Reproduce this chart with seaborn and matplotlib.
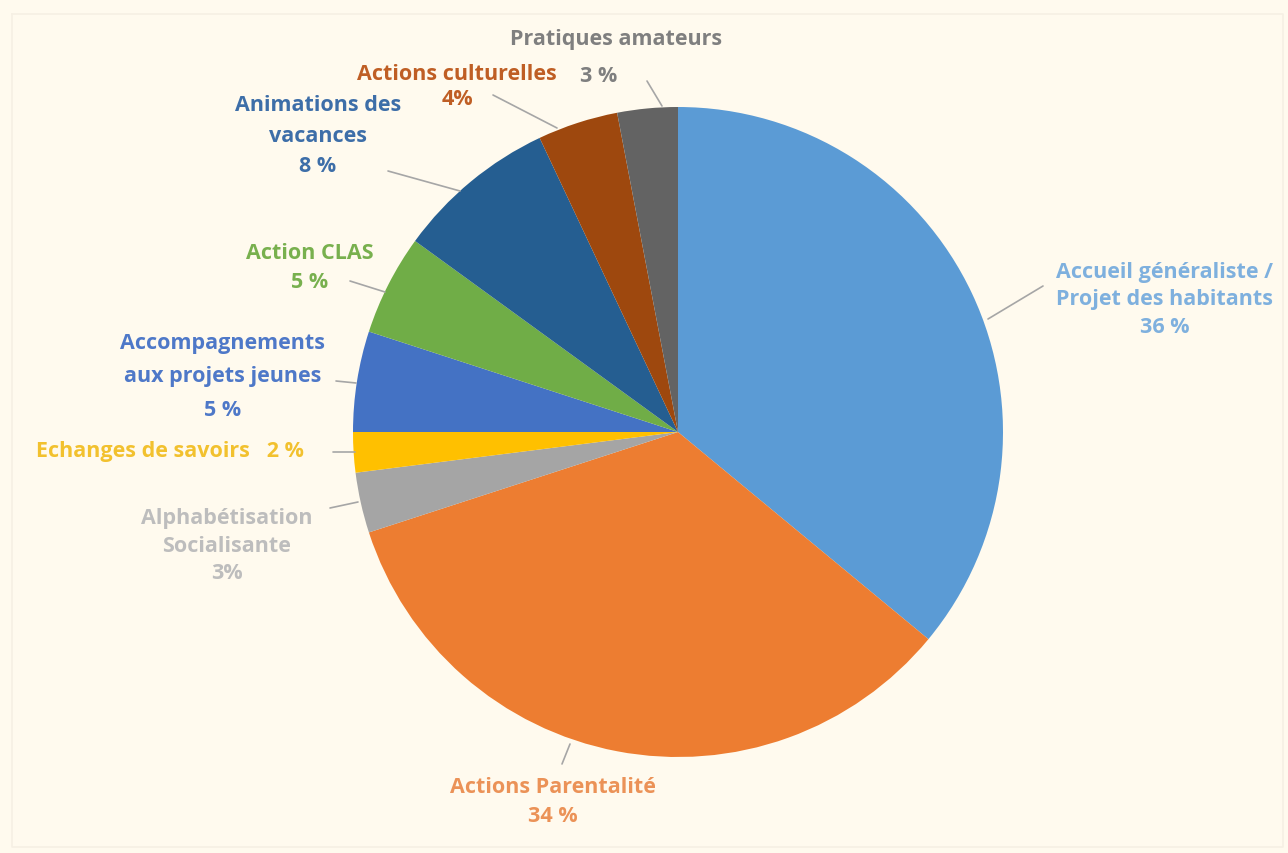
import matplotlib
matplotlib.use("Agg")
import matplotlib.pyplot as plt
import seaborn as sns

categories = ["Accueil généraliste / Projet des habitants", "Actions Parentalité",
              "Alphabétisation Socialisante", "Echanges de savoirs",
              "Accompagnements aux projets jeunes", "Action CLAS",
              "Animations des vacances", "Actions culturelles", "Pratiques amateurs"]
values = [36, 34, 3, 2, 5, 5, 8, 4, 3]
slice_colors = ["#5B9BD5", "#ED7D31", "#A5A5A5", "#FFC000", "#4472C4",
                "#70AD47", "#255E91", "#9E480E", "#636363"]
label_texts = ["Accueil généraliste /\nProjet des habitants\n36 %",
               "Actions Parentalité\n34 %",
               "Alphabétisation\nSocialisante\n3%",
               "Echanges de savoirs   2 %",
               "Accompagnements\naux projets jeunes\n5 %",
               "Action CLAS\n5 %",
               "Animations des\nvacances\n8 %",
               "Actions culturelles\n4%",
               "Pratiques amateurs\n3 %"]
label_colors = ["#7EB0DE", "#EB9257", "#BDBDBD", "#F2C12E", "#4E78C8",
                "#78B04E", "#3D6EA8", "#BF5E24", "#7F7F7F"]

sns.set_style("white")
plt.rcParams['font.family'] = ['Open Sans', 'DejaVu Sans']

W, H = 1288, 854
bg = "#FFFAEE"
fig = plt.figure(figsize=(W / 100, H / 100), dpi=100, facecolor=bg)
ax = fig.add_axes([0, 0, 1, 1])
ax.set_facecolor(bg)

def py(y):
    return H - y

cx, cy, r = 678, 433, 325
ax.pie(values, colors=slice_colors, startangle=90, counterclock=False,
       center=(cx, py(cy)), radius=r, frame=True,
       wedgeprops=dict(linewidth=0))
ax.set_xlim(0, W)
ax.set_ylim(0, H)
ax.set_aspect("equal")
ax.axis("off")

# faint frame
ax.plot([12, 1283, 1283, 12, 12], [py(15), py(15), py(848), py(848), py(15)],
        color="#F6F0E4", lw=1.2)

# label positions (pixel coords), line spacing and leader lines
label_pos = [(1165, 300), (553, 802), (227, 546), (170, 452), (223, 377),
             (310, 268), (318, 136), (457, 87), (612, 57)]
label_ls = [1.4, 1.55, 1.4, 1.4, 1.8, 1.55, 1.6, 1.2, 1.4]
leaders = [((988, 320), (1043, 287)), ((570, 745), (562, 765)),
           ((358, 503), (330, 509)), ((355, 453), (333, 453)),
           ((356, 384), (336, 382)), ((385, 293), (350, 282)),
           ((460, 192), (388, 172)), ((557, 129), (493, 96)),
           ((662, 107), (647, 82))]

fs = 15.5
for txt, (x, y), col, ls in zip(label_texts, label_pos, label_colors, label_ls):
    if txt.startswith("Pratiques"):
        ax.text(616, py(40), "Pratiques amateurs", ha="center", va="center",
                color=col, fontsize=fs, fontweight="bold")
        ax.text(599, py(77), "3 %", ha="center", va="center",
                color=col, fontsize=fs, fontweight="bold")
        continue
    ax.text(x, py(y), txt, ha="center", va="center", color=col,
            fontsize=fs, fontweight="bold", linespacing=ls)

for (a, b) in leaders:
    ax.plot([a[0], b[0]], [py(a[1]), py(b[1])], color="#A6A6A6", lw=1.2)

fig.savefig("out.png", dpi=100, facecolor=bg)
